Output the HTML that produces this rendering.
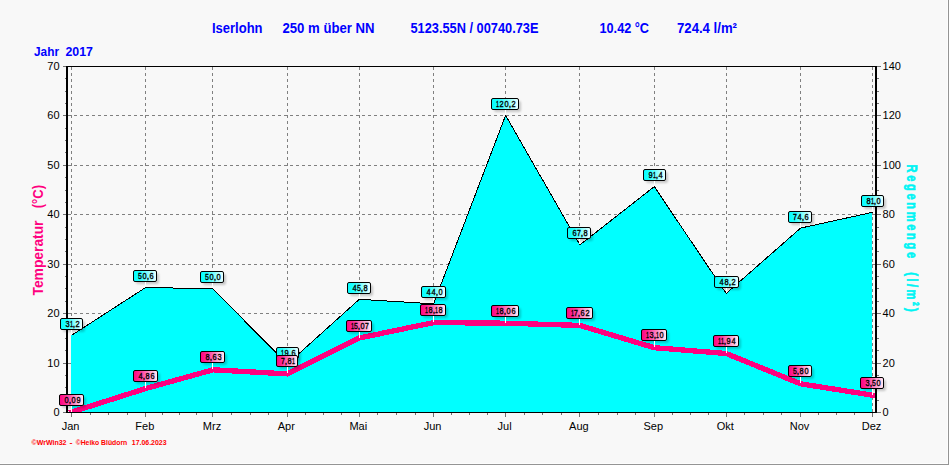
<!DOCTYPE html>
<html><head><meta charset="utf-8"><title>Iserlohn 2017</title>
<style>html,body{margin:0;padding:0;background:#f8f8f8;}body{width:949px;height:465px;overflow:hidden;font-family:"Liberation Sans",sans-serif;}svg{display:block;}text{font-family:"Liberation Sans",sans-serif;}</style>
</head><body>
<svg width="949" height="465" viewBox="0 0 949 465">
<defs>
<linearGradient id="gc" x1="0" y1="0" x2="1" y2="0"><stop offset="0" stop-color="#00ffff"/><stop offset="0.25" stop-color="#20ffff"/><stop offset="1" stop-color="#f0ffff"/></linearGradient>
<linearGradient id="gp" x1="0" y1="0" x2="1" y2="0"><stop offset="0" stop-color="#ff0080"/><stop offset="0.25" stop-color="#ff2894"/><stop offset="1" stop-color="#fff0f8"/></linearGradient>
<filter id="sh" x="-20%" y="-30%" width="150%" height="190%"><feGaussianBlur stdDeviation="1.1"/></filter>
</defs>
<rect x="0" y="0" width="949" height="465" fill="#f8f8f8"/>
<g shape-rendering="crispEdges">
<rect x="0" y="463" width="948" height="1" fill="#fdfdfd"/><rect x="947" y="0" width="1" height="464" fill="#fdfdfd"/>
<rect x="0" y="464" width="949" height="1" fill="#949494"/><rect x="948" y="0" width="1" height="465" fill="#949494"/>
</g>
<g stroke="#808080" stroke-width="1" stroke-dasharray="3 3" shape-rendering="crispEdges" fill="none">
<line x1="71.5" y1="67.0" x2="71.5" y2="412.0"/>
<line x1="145.5" y1="67.0" x2="145.5" y2="412.0"/>
<line x1="212.5" y1="67.0" x2="212.5" y2="412.0"/>
<line x1="287.5" y1="67.0" x2="287.5" y2="412.0"/>
<line x1="359.5" y1="67.0" x2="359.5" y2="412.0"/>
<line x1="433.5" y1="67.0" x2="433.5" y2="412.0"/>
<line x1="505.5" y1="67.0" x2="505.5" y2="412.0"/>
<line x1="579.5" y1="67.0" x2="579.5" y2="412.0"/>
<line x1="654.5" y1="67.0" x2="654.5" y2="412.0"/>
<line x1="726.5" y1="67.0" x2="726.5" y2="412.0"/>
<line x1="800.5" y1="67.0" x2="800.5" y2="412.0"/>
<line x1="872.5" y1="67.0" x2="872.5" y2="412.0"/>
<line x1="68.0" y1="363.5" x2="875.0" y2="363.5"/>
<line x1="68.0" y1="313.5" x2="875.0" y2="313.5"/>
<line x1="68.0" y1="264.5" x2="875.0" y2="264.5"/>
<line x1="68.0" y1="214.5" x2="875.0" y2="214.5"/>
<line x1="68.0" y1="165.5" x2="875.0" y2="165.5"/>
<line x1="68.0" y1="115.5" x2="875.0" y2="115.5"/>
</g>
<polygon points="71.0,412.0 71.5,335.4 145.8,287.4 213.0,288.9 287.3,364.1 359.3,299.3 433.6,303.8 505.6,115.4 579.9,244.9 654.3,186.6 726.2,293.4 800.6,228.1 872.5,212.3 872.0,412.0" fill="#00ffff" stroke="none" shape-rendering="crispEdges"/>
<polyline points="71.5,335.4 145.8,287.4 213.0,288.9 287.3,364.1 359.3,299.3 433.6,303.8 505.6,115.4 579.9,244.9 654.3,186.6 726.2,293.4 800.6,228.1 872.5,212.3" fill="none" stroke="#000" stroke-width="1" shape-rendering="crispEdges"/>
<clipPath id="cp"><rect x="68" y="67" width="807" height="345"/></clipPath>
<polyline clip-path="url(#cp)" points="71.5,412.1 145.8,388.5 213.0,369.8 287.3,373.9 359.3,338.0 433.6,322.6 505.6,323.2 579.9,325.4 654.3,347.7 726.2,353.5 800.6,383.8 872.5,395.2" fill="none" stroke="#ff007f" stroke-width="5.3" stroke-linejoin="round" stroke-linecap="square" shape-rendering="crispEdges"/>
<g shape-rendering="crispEdges" fill="#000">
<rect x="66" y="66" width="2" height="347"/>
<rect x="875" y="66" width="2" height="347"/>
<rect x="66" y="66" width="811" height="1"/>
<rect x="66" y="412" width="811" height="1"/>
</g>
<g shape-rendering="crispEdges" fill="#707070">
<rect x="63" y="412" width="3" height="1"/>
<rect x="877" y="412" width="4" height="1"/>
<rect x="65" y="400" width="1" height="1"/>
<rect x="877" y="400" width="2" height="1"/>
<rect x="65" y="387" width="1" height="1"/>
<rect x="877" y="387" width="2" height="1"/>
<rect x="65" y="375" width="1" height="1"/>
<rect x="877" y="375" width="2" height="1"/>
<rect x="63" y="363" width="3" height="1"/>
<rect x="877" y="363" width="4" height="1"/>
<rect x="65" y="350" width="1" height="1"/>
<rect x="877" y="350" width="2" height="1"/>
<rect x="65" y="338" width="1" height="1"/>
<rect x="877" y="338" width="2" height="1"/>
<rect x="65" y="326" width="1" height="1"/>
<rect x="877" y="326" width="2" height="1"/>
<rect x="63" y="313" width="3" height="1"/>
<rect x="877" y="313" width="4" height="1"/>
<rect x="65" y="301" width="1" height="1"/>
<rect x="877" y="301" width="2" height="1"/>
<rect x="65" y="288" width="1" height="1"/>
<rect x="877" y="288" width="2" height="1"/>
<rect x="65" y="276" width="1" height="1"/>
<rect x="877" y="276" width="2" height="1"/>
<rect x="63" y="264" width="3" height="1"/>
<rect x="877" y="264" width="4" height="1"/>
<rect x="65" y="251" width="1" height="1"/>
<rect x="877" y="251" width="2" height="1"/>
<rect x="65" y="239" width="1" height="1"/>
<rect x="877" y="239" width="2" height="1"/>
<rect x="65" y="227" width="1" height="1"/>
<rect x="877" y="227" width="2" height="1"/>
<rect x="63" y="214" width="3" height="1"/>
<rect x="877" y="214" width="4" height="1"/>
<rect x="65" y="202" width="1" height="1"/>
<rect x="877" y="202" width="2" height="1"/>
<rect x="65" y="190" width="1" height="1"/>
<rect x="877" y="190" width="2" height="1"/>
<rect x="65" y="177" width="1" height="1"/>
<rect x="877" y="177" width="2" height="1"/>
<rect x="63" y="165" width="3" height="1"/>
<rect x="877" y="165" width="4" height="1"/>
<rect x="65" y="152" width="1" height="1"/>
<rect x="877" y="152" width="2" height="1"/>
<rect x="65" y="140" width="1" height="1"/>
<rect x="877" y="140" width="2" height="1"/>
<rect x="65" y="128" width="1" height="1"/>
<rect x="877" y="128" width="2" height="1"/>
<rect x="63" y="115" width="3" height="1"/>
<rect x="877" y="115" width="4" height="1"/>
<rect x="65" y="103" width="1" height="1"/>
<rect x="877" y="103" width="2" height="1"/>
<rect x="65" y="91" width="1" height="1"/>
<rect x="877" y="91" width="2" height="1"/>
<rect x="65" y="78" width="1" height="1"/>
<rect x="877" y="78" width="2" height="1"/>
<rect x="63" y="66" width="3" height="1"/>
<rect x="877" y="66" width="4" height="1"/>
<rect x="71" y="413" width="1" height="4"/>
<rect x="90" y="413" width="1" height="2"/>
<rect x="108" y="413" width="1" height="2"/>
<rect x="127" y="413" width="1" height="2"/>
<rect x="145" y="413" width="1" height="4"/>
<rect x="162" y="413" width="1" height="2"/>
<rect x="179" y="413" width="1" height="2"/>
<rect x="196" y="413" width="1" height="2"/>
<rect x="212" y="413" width="1" height="4"/>
<rect x="231" y="413" width="1" height="2"/>
<rect x="250" y="413" width="1" height="2"/>
<rect x="268" y="413" width="1" height="2"/>
<rect x="287" y="413" width="1" height="4"/>
<rect x="305" y="413" width="1" height="2"/>
<rect x="323" y="413" width="1" height="2"/>
<rect x="341" y="413" width="1" height="2"/>
<rect x="359" y="413" width="1" height="4"/>
<rect x="377" y="413" width="1" height="2"/>
<rect x="396" y="413" width="1" height="2"/>
<rect x="415" y="413" width="1" height="2"/>
<rect x="433" y="413" width="1" height="4"/>
<rect x="451" y="413" width="1" height="2"/>
<rect x="469" y="413" width="1" height="2"/>
<rect x="487" y="413" width="1" height="2"/>
<rect x="505" y="413" width="1" height="4"/>
<rect x="524" y="413" width="1" height="2"/>
<rect x="542" y="413" width="1" height="2"/>
<rect x="561" y="413" width="1" height="2"/>
<rect x="579" y="413" width="1" height="4"/>
<rect x="598" y="413" width="1" height="2"/>
<rect x="617" y="413" width="1" height="2"/>
<rect x="635" y="413" width="1" height="2"/>
<rect x="654" y="413" width="1" height="4"/>
<rect x="672" y="413" width="1" height="2"/>
<rect x="690" y="413" width="1" height="2"/>
<rect x="708" y="413" width="1" height="2"/>
<rect x="726" y="413" width="1" height="4"/>
<rect x="744" y="413" width="1" height="2"/>
<rect x="763" y="413" width="1" height="2"/>
<rect x="781" y="413" width="1" height="2"/>
<rect x="800" y="413" width="1" height="4"/>
<rect x="818" y="413" width="1" height="2"/>
<rect x="836" y="413" width="1" height="2"/>
<rect x="854" y="413" width="1" height="2"/>
<rect x="872" y="413" width="1" height="4"/>
</g>
<g font-size="11" fill="#000">
<text x="59.6" y="415.9" text-anchor="end">0</text>
<text x="882.6" y="415.9">0</text>
<text x="59.6" y="366.9" text-anchor="end">10</text>
<text x="882.6" y="366.9">20</text>
<text x="59.6" y="316.9" text-anchor="end">20</text>
<text x="882.6" y="316.9">40</text>
<text x="59.6" y="267.9" text-anchor="end">30</text>
<text x="882.6" y="267.9">60</text>
<text x="59.6" y="217.9" text-anchor="end">40</text>
<text x="882.6" y="217.9">80</text>
<text x="59.6" y="168.9" text-anchor="end">50</text>
<text x="882.6" y="168.9">100</text>
<text x="59.6" y="118.9" text-anchor="end">60</text>
<text x="882.6" y="118.9">120</text>
<text x="59.6" y="69.9" text-anchor="end">70</text>
<text x="882.6" y="69.9">140</text>
<text x="70.5" y="430" text-anchor="middle">Jan</text>
<text x="144.8" y="430" text-anchor="middle">Feb</text>
<text x="212.0" y="430" text-anchor="middle">Mrz</text>
<text x="286.3" y="430" text-anchor="middle">Apr</text>
<text x="358.3" y="430" text-anchor="middle">Mai</text>
<text x="432.6" y="430" text-anchor="middle">Jun</text>
<text x="504.6" y="430" text-anchor="middle">Jul</text>
<text x="578.9" y="430" text-anchor="middle">Aug</text>
<text x="653.3" y="430" text-anchor="middle">Sep</text>
<text x="725.2" y="430" text-anchor="middle">Okt</text>
<text x="799.6" y="430" text-anchor="middle">Nov</text>
<text x="871.5" y="430" text-anchor="middle">Dez</text>
</g>
<g font-size="14" font-weight="bold" fill="#0000ff">
<text x="212" y="33" textLength="50.5" lengthAdjust="spacingAndGlyphs">Iserlohn</text>
<text x="282.5" y="33" textLength="92" lengthAdjust="spacingAndGlyphs">250 m über NN</text>
<text x="410.5" y="33" textLength="128" lengthAdjust="spacingAndGlyphs">5123.55N / 00740.73E</text>
<text x="599.5" y="33" textLength="49.5" lengthAdjust="spacingAndGlyphs">10.42 °C</text>
<text x="677" y="33" textLength="60" lengthAdjust="spacingAndGlyphs">724.4 l/m²</text>
<text x="34" y="56" font-size="13.5" textLength="25" lengthAdjust="spacingAndGlyphs">Jahr</text>
<text x="65.5" y="56" font-size="13.5" textLength="27.5" lengthAdjust="spacingAndGlyphs">2017</text>
</g>
<g font-weight="bold" fill="#ff007f" font-size="14">
<text transform="translate(42.6,295.5) rotate(-90)" textLength="75" lengthAdjust="spacingAndGlyphs">Temperatur</text>
<text transform="translate(42.6,208.3) rotate(-90)" textLength="23.3" lengthAdjust="spacingAndGlyphs">(°C)</text>
</g>
<g font-weight="bold" fill="#00f4f4" stroke="#00f4f4" stroke-width="0.7" font-size="15.5">
<text transform="translate(907,164.6) rotate(90) scale(0.72,1)" textLength="129.9" lengthAdjust="spacing">Regenmenge</text>
<text transform="translate(907,272.3) rotate(90) scale(0.72,1)" textLength="54.9" lengthAdjust="spacing">(l/m²)</text>
</g>
<g font-size="7.5" font-weight="bold" fill="#ff0000">
<text x="31.5" y="445" textLength="35" lengthAdjust="spacingAndGlyphs">©WrWin32</text>
<text x="69.5" y="445" textLength="3" lengthAdjust="spacingAndGlyphs">-</text>
<text x="75.7" y="445" textLength="51.5" lengthAdjust="spacingAndGlyphs">©Heiko Blüdorn</text>
<text x="131.8" y="445" textLength="34.7" lengthAdjust="spacingAndGlyphs">17.06.2023</text>
</g>
<g>
<rect x="63" y="321" width="22" height="11" rx="2" fill="#000" opacity="0.2" filter="url(#sh)"/><rect x="71" y="330" width="1" height="5" fill="#fff" shape-rendering="crispEdges"/><rect x="60.5" y="318.5" width="22" height="11" rx="1.5" ry="1.5" fill="url(#gc)" stroke="#000" stroke-width="1"/><g font-size="8.6" fill="#000" stroke="#000" stroke-width="0.35"><text transform="translate(65.47,327.2) scale(0.86,1)">3</text><text transform="translate(69.95,327.2) scale(0.62,1)">1</text><text transform="translate(72.83,327.2) scale(1.00,1)">,</text><text transform="translate(75.45,327.2) scale(0.86,1)">2</text></g>
<rect x="136" y="273" width="23" height="11" rx="2" fill="#000" opacity="0.2" filter="url(#sh)"/><rect x="145" y="282" width="1" height="5" fill="#fff" shape-rendering="crispEdges"/><rect x="133.5" y="270.5" width="23" height="11" rx="1.5" ry="1.5" fill="url(#gc)" stroke="#000" stroke-width="1"/><g font-size="8.6" fill="#000" stroke="#000" stroke-width="0.35"><text transform="translate(138.10,279.2) scale(0.80,1)">5</text><text transform="translate(142.45,279.2) scale(0.86,1)">0</text><text transform="translate(146.83,279.2) scale(1.00,1)">,</text><text transform="translate(149.42,279.2) scale(0.86,1)">6</text></g>
<rect x="203" y="274" width="23" height="11" rx="2" fill="#000" opacity="0.2" filter="url(#sh)"/><rect x="212" y="283" width="1" height="5" fill="#fff" shape-rendering="crispEdges"/><rect x="200.5" y="271.5" width="23" height="11" rx="1.5" ry="1.5" fill="url(#gc)" stroke="#000" stroke-width="1"/><g font-size="8.6" fill="#000" stroke="#000" stroke-width="0.35"><text transform="translate(205.10,280.2) scale(0.80,1)">5</text><text transform="translate(209.45,280.2) scale(0.86,1)">0</text><text transform="translate(213.83,280.2) scale(1.00,1)">,</text><text transform="translate(216.45,280.2) scale(0.86,1)">0</text></g>
<rect x="279" y="350" width="22" height="11" rx="2" fill="#000" opacity="0.2" filter="url(#sh)"/><rect x="287" y="359" width="1" height="5" fill="#fff" shape-rendering="crispEdges"/><rect x="276.5" y="347.5" width="22" height="11" rx="1.5" ry="1.5" fill="url(#gc)" stroke="#000" stroke-width="1"/><g font-size="8.6" fill="#000" stroke="#000" stroke-width="0.35"><text transform="translate(280.95,356.2) scale(0.62,1)">1</text><text transform="translate(284.45,356.2) scale(0.86,1)">9</text><text transform="translate(288.83,356.2) scale(1.00,1)">,</text><text transform="translate(291.42,356.2) scale(0.86,1)">6</text></g>
<rect x="350" y="285" width="23" height="11" rx="2" fill="#000" opacity="0.2" filter="url(#sh)"/><rect x="359" y="294" width="1" height="5" fill="#fff" shape-rendering="crispEdges"/><rect x="347.5" y="282.5" width="23" height="11" rx="1.5" ry="1.5" fill="url(#gc)" stroke="#000" stroke-width="1"/><g font-size="8.6" fill="#000" stroke="#000" stroke-width="0.35"><text transform="translate(352.47,291.2) scale(0.86,1)">4</text><text transform="translate(357.10,291.2) scale(0.80,1)">5</text><text transform="translate(360.83,291.2) scale(1.00,1)">,</text><text transform="translate(363.45,291.2) scale(0.86,1)">8</text></g>
<rect x="424" y="289" width="24" height="11" rx="2" fill="#000" opacity="0.2" filter="url(#sh)"/><rect x="433" y="298" width="1" height="5" fill="#fff" shape-rendering="crispEdges"/><rect x="421.5" y="286.5" width="24" height="11" rx="1.5" ry="1.5" fill="url(#gc)" stroke="#000" stroke-width="1"/><g font-size="8.6" fill="#000" stroke="#000" stroke-width="0.35"><text transform="translate(426.47,295.2) scale(0.86,1)">4</text><text transform="translate(431.47,295.2) scale(0.86,1)">4</text><text transform="translate(435.83,295.2) scale(1.00,1)">,</text><text transform="translate(438.45,295.2) scale(0.86,1)">0</text></g>
<rect x="494" y="101" width="27" height="11" rx="2" fill="#000" opacity="0.2" filter="url(#sh)"/><rect x="505" y="110" width="1" height="5" fill="#fff" shape-rendering="crispEdges"/><rect x="491.5" y="98.5" width="27" height="11" rx="1.5" ry="1.5" fill="url(#gc)" stroke="#000" stroke-width="1"/><g font-size="8.6" fill="#000" stroke="#000" stroke-width="0.35"><text transform="translate(495.95,107.2) scale(0.62,1)">1</text><text transform="translate(499.45,107.2) scale(0.86,1)">2</text><text transform="translate(504.45,107.2) scale(0.86,1)">0</text><text transform="translate(508.83,107.2) scale(1.00,1)">,</text><text transform="translate(511.45,107.2) scale(0.86,1)">2</text></g>
<rect x="570" y="230" width="23" height="11" rx="2" fill="#000" opacity="0.2" filter="url(#sh)"/><rect x="579" y="239" width="1" height="5" fill="#fff" shape-rendering="crispEdges"/><rect x="567.5" y="227.5" width="23" height="11" rx="1.5" ry="1.5" fill="url(#gc)" stroke="#000" stroke-width="1"/><g font-size="8.6" fill="#000" stroke="#000" stroke-width="0.35"><text transform="translate(572.42,236.2) scale(0.86,1)">6</text><text transform="translate(577.09,236.2) scale(0.80,1)">7</text><text transform="translate(580.83,236.2) scale(1.00,1)">,</text><text transform="translate(583.45,236.2) scale(0.86,1)">8</text></g>
<rect x="646" y="172" width="22" height="11" rx="2" fill="#000" opacity="0.2" filter="url(#sh)"/><rect x="654" y="181" width="1" height="5" fill="#fff" shape-rendering="crispEdges"/><rect x="643.5" y="169.5" width="22" height="11" rx="1.5" ry="1.5" fill="url(#gc)" stroke="#000" stroke-width="1"/><g font-size="8.6" fill="#000" stroke="#000" stroke-width="0.35"><text transform="translate(648.45,178.2) scale(0.86,1)">9</text><text transform="translate(652.95,178.2) scale(0.62,1)">1</text><text transform="translate(655.83,178.2) scale(1.00,1)">,</text><text transform="translate(658.47,178.2) scale(0.86,1)">4</text></g>
<rect x="717" y="279" width="24" height="11" rx="2" fill="#000" opacity="0.2" filter="url(#sh)"/><rect x="726" y="288" width="1" height="5" fill="#fff" shape-rendering="crispEdges"/><rect x="714.5" y="276.5" width="24" height="11" rx="1.5" ry="1.5" fill="url(#gc)" stroke="#000" stroke-width="1"/><g font-size="8.6" fill="#000" stroke="#000" stroke-width="0.35"><text transform="translate(719.47,285.2) scale(0.86,1)">4</text><text transform="translate(724.45,285.2) scale(0.86,1)">8</text><text transform="translate(728.83,285.2) scale(1.00,1)">,</text><text transform="translate(731.45,285.2) scale(0.86,1)">2</text></g>
<rect x="791" y="214" width="23" height="11" rx="2" fill="#000" opacity="0.2" filter="url(#sh)"/><rect x="800" y="223" width="1" height="5" fill="#fff" shape-rendering="crispEdges"/><rect x="788.5" y="211.5" width="23" height="11" rx="1.5" ry="1.5" fill="url(#gc)" stroke="#000" stroke-width="1"/><g font-size="8.6" fill="#000" stroke="#000" stroke-width="0.35"><text transform="translate(793.09,220.2) scale(0.80,1)">7</text><text transform="translate(797.47,220.2) scale(0.86,1)">4</text><text transform="translate(801.83,220.2) scale(1.00,1)">,</text><text transform="translate(804.42,220.2) scale(0.86,1)">6</text></g>
<rect x="864" y="198" width="22" height="11" rx="2" fill="#000" opacity="0.2" filter="url(#sh)"/><rect x="872" y="207" width="1" height="5" fill="#fff" shape-rendering="crispEdges"/><rect x="861.5" y="195.5" width="22" height="11" rx="1.5" ry="1.5" fill="url(#gc)" stroke="#000" stroke-width="1"/><g font-size="8.6" fill="#000" stroke="#000" stroke-width="0.35"><text transform="translate(866.45,204.2) scale(0.86,1)">8</text><text transform="translate(870.95,204.2) scale(0.62,1)">1</text><text transform="translate(873.83,204.2) scale(1.00,1)">,</text><text transform="translate(876.45,204.2) scale(0.86,1)">0</text></g>
<rect x="62" y="397" width="24" height="11" rx="2" fill="#000" opacity="0.2" filter="url(#sh)"/><rect x="71" y="406" width="1" height="6" fill="#fff" shape-rendering="crispEdges"/><rect x="59.5" y="394.5" width="24" height="11" rx="1.5" ry="1.5" fill="url(#gp)" stroke="#000" stroke-width="1"/><g font-size="8.6" fill="#000" stroke="#000" stroke-width="0.35"><text transform="translate(64.45,403.2) scale(0.86,1)">0</text><text transform="translate(68.83,403.2) scale(1.00,1)">,</text><text transform="translate(71.45,403.2) scale(0.86,1)">0</text><text transform="translate(76.45,403.2) scale(0.86,1)">9</text></g>
<rect x="136" y="373" width="24" height="11" rx="2" fill="#000" opacity="0.2" filter="url(#sh)"/><rect x="145" y="382" width="1" height="6" fill="#fff" shape-rendering="crispEdges"/><rect x="133.5" y="370.5" width="24" height="11" rx="1.5" ry="1.5" fill="url(#gp)" stroke="#000" stroke-width="1"/><g font-size="8.6" fill="#000" stroke="#000" stroke-width="0.35"><text transform="translate(138.47,379.2) scale(0.86,1)">4</text><text transform="translate(142.83,379.2) scale(1.00,1)">,</text><text transform="translate(145.45,379.2) scale(0.86,1)">8</text><text transform="translate(150.42,379.2) scale(0.86,1)">6</text></g>
<rect x="203" y="354" width="24" height="11" rx="2" fill="#000" opacity="0.2" filter="url(#sh)"/><rect x="212" y="363" width="1" height="6" fill="#fff" shape-rendering="crispEdges"/><rect x="200.5" y="351.5" width="24" height="11" rx="1.5" ry="1.5" fill="url(#gp)" stroke="#000" stroke-width="1"/><g font-size="8.6" fill="#000" stroke="#000" stroke-width="0.35"><text transform="translate(205.45,360.2) scale(0.86,1)">8</text><text transform="translate(209.83,360.2) scale(1.00,1)">,</text><text transform="translate(212.42,360.2) scale(0.86,1)">6</text><text transform="translate(217.47,360.2) scale(0.86,1)">3</text></g>
<rect x="279" y="358" width="21" height="11" rx="2" fill="#000" opacity="0.2" filter="url(#sh)"/><rect x="287" y="367" width="1" height="6" fill="#fff" shape-rendering="crispEdges"/><rect x="276.5" y="355.5" width="21" height="11" rx="1.5" ry="1.5" fill="url(#gp)" stroke="#000" stroke-width="1"/><g font-size="8.6" fill="#000" stroke="#000" stroke-width="0.35"><text transform="translate(281.09,364.2) scale(0.80,1)">7</text><text transform="translate(284.83,364.2) scale(1.00,1)">,</text><text transform="translate(287.45,364.2) scale(0.86,1)">8</text><text transform="translate(291.95,364.2) scale(0.62,1)">1</text></g>
<rect x="349" y="323" width="25" height="11" rx="2" fill="#000" opacity="0.2" filter="url(#sh)"/><rect x="359" y="332" width="1" height="6" fill="#fff" shape-rendering="crispEdges"/><rect x="346.5" y="320.5" width="25" height="11" rx="1.5" ry="1.5" fill="url(#gp)" stroke="#000" stroke-width="1"/><g font-size="8.6" fill="#000" stroke="#000" stroke-width="0.35"><text transform="translate(350.95,329.2) scale(0.62,1)">1</text><text transform="translate(354.10,329.2) scale(0.80,1)">5</text><text transform="translate(357.83,329.2) scale(1.00,1)">,</text><text transform="translate(360.45,329.2) scale(0.86,1)">0</text><text transform="translate(365.09,329.2) scale(0.80,1)">7</text></g>
<rect x="423" y="307" width="25" height="11" rx="2" fill="#000" opacity="0.2" filter="url(#sh)"/><rect x="433" y="316" width="1" height="6" fill="#fff" shape-rendering="crispEdges"/><rect x="420.5" y="304.5" width="25" height="11" rx="1.5" ry="1.5" fill="url(#gp)" stroke="#000" stroke-width="1"/><g font-size="8.6" fill="#000" stroke="#000" stroke-width="0.35"><text transform="translate(424.95,313.2) scale(0.62,1)">1</text><text transform="translate(428.45,313.2) scale(0.86,1)">8</text><text transform="translate(432.83,313.2) scale(1.00,1)">,</text><text transform="translate(434.95,313.2) scale(0.62,1)">1</text><text transform="translate(438.45,313.2) scale(0.86,1)">8</text></g>
<rect x="494" y="308" width="27" height="11" rx="2" fill="#000" opacity="0.2" filter="url(#sh)"/><rect x="505" y="317" width="1" height="6" fill="#fff" shape-rendering="crispEdges"/><rect x="491.5" y="305.5" width="27" height="11" rx="1.5" ry="1.5" fill="url(#gp)" stroke="#000" stroke-width="1"/><g font-size="8.6" fill="#000" stroke="#000" stroke-width="0.35"><text transform="translate(495.95,314.2) scale(0.62,1)">1</text><text transform="translate(499.45,314.2) scale(0.86,1)">8</text><text transform="translate(503.83,314.2) scale(1.00,1)">,</text><text transform="translate(506.45,314.2) scale(0.86,1)">0</text><text transform="translate(511.42,314.2) scale(0.86,1)">6</text></g>
<rect x="569" y="310" width="26" height="11" rx="2" fill="#000" opacity="0.2" filter="url(#sh)"/><rect x="579" y="319" width="1" height="6" fill="#fff" shape-rendering="crispEdges"/><rect x="566.5" y="307.5" width="26" height="11" rx="1.5" ry="1.5" fill="url(#gp)" stroke="#000" stroke-width="1"/><g font-size="8.6" fill="#000" stroke="#000" stroke-width="0.35"><text transform="translate(570.95,316.2) scale(0.62,1)">1</text><text transform="translate(574.09,316.2) scale(0.80,1)">7</text><text transform="translate(577.83,316.2) scale(1.00,1)">,</text><text transform="translate(580.42,316.2) scale(0.86,1)">6</text><text transform="translate(585.45,316.2) scale(0.86,1)">2</text></g>
<rect x="644" y="332" width="25" height="11" rx="2" fill="#000" opacity="0.2" filter="url(#sh)"/><rect x="654" y="341" width="1" height="6" fill="#fff" shape-rendering="crispEdges"/><rect x="641.5" y="329.5" width="25" height="11" rx="1.5" ry="1.5" fill="url(#gp)" stroke="#000" stroke-width="1"/><g font-size="8.6" fill="#000" stroke="#000" stroke-width="0.35"><text transform="translate(645.95,338.2) scale(0.62,1)">1</text><text transform="translate(649.47,338.2) scale(0.86,1)">3</text><text transform="translate(653.83,338.2) scale(1.00,1)">,</text><text transform="translate(655.95,338.2) scale(0.62,1)">1</text><text transform="translate(659.45,338.2) scale(0.86,1)">0</text></g>
<rect x="716" y="338" width="25" height="11" rx="2" fill="#000" opacity="0.2" filter="url(#sh)"/><rect x="726" y="347" width="1" height="6" fill="#fff" shape-rendering="crispEdges"/><rect x="713.5" y="335.5" width="25" height="11" rx="1.5" ry="1.5" fill="url(#gp)" stroke="#000" stroke-width="1"/><g font-size="8.6" fill="#000" stroke="#000" stroke-width="0.35"><text transform="translate(717.95,344.2) scale(0.62,1)">1</text><text transform="translate(720.95,344.2) scale(0.62,1)">1</text><text transform="translate(723.83,344.2) scale(1.00,1)">,</text><text transform="translate(726.45,344.2) scale(0.86,1)">9</text><text transform="translate(731.47,344.2) scale(0.86,1)">4</text></g>
<rect x="791" y="368" width="23" height="11" rx="2" fill="#000" opacity="0.2" filter="url(#sh)"/><rect x="800" y="377" width="1" height="6" fill="#fff" shape-rendering="crispEdges"/><rect x="788.5" y="365.5" width="23" height="11" rx="1.5" ry="1.5" fill="url(#gp)" stroke="#000" stroke-width="1"/><g font-size="8.6" fill="#000" stroke="#000" stroke-width="0.35"><text transform="translate(793.10,374.2) scale(0.80,1)">5</text><text transform="translate(796.83,374.2) scale(1.00,1)">,</text><text transform="translate(799.45,374.2) scale(0.86,1)">8</text><text transform="translate(804.45,374.2) scale(0.86,1)">0</text></g>
<rect x="863" y="380" width="23" height="11" rx="2" fill="#000" opacity="0.2" filter="url(#sh)"/><rect x="872" y="389" width="1" height="6" fill="#fff" shape-rendering="crispEdges"/><rect x="860.5" y="377.5" width="23" height="11" rx="1.5" ry="1.5" fill="url(#gp)" stroke="#000" stroke-width="1"/><g font-size="8.6" fill="#000" stroke="#000" stroke-width="0.35"><text transform="translate(865.47,386.2) scale(0.86,1)">3</text><text transform="translate(869.83,386.2) scale(1.00,1)">,</text><text transform="translate(872.10,386.2) scale(0.80,1)">5</text><text transform="translate(876.45,386.2) scale(0.86,1)">0</text></g>
</g>
</svg>
</body></html>
